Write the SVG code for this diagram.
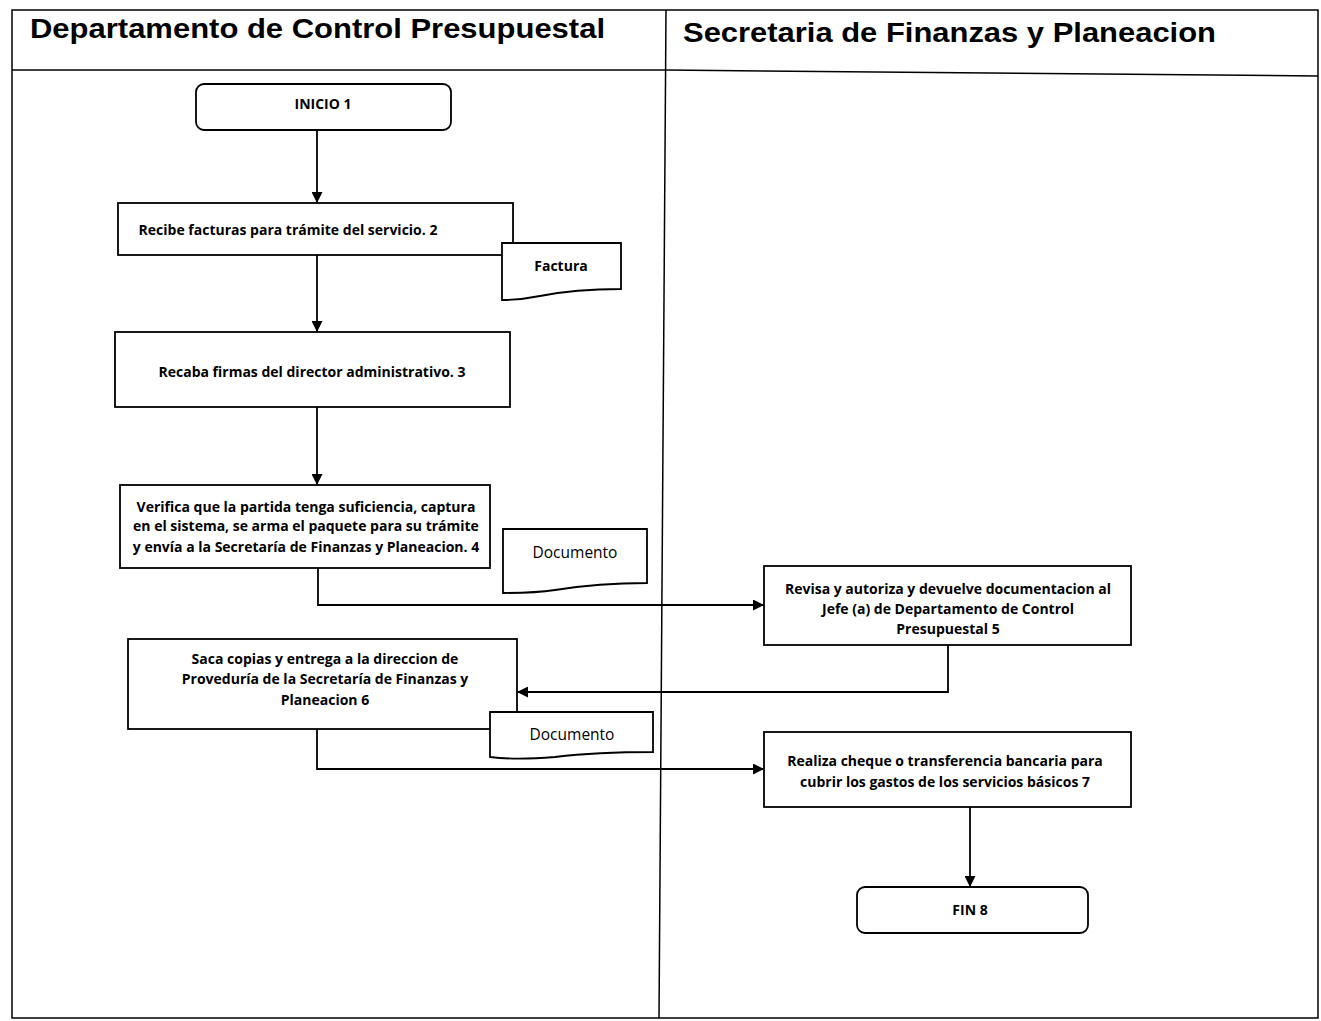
<svg xmlns="http://www.w3.org/2000/svg" width="1321" height="1021" viewBox="0 0 1321 1021">
<style>
.lane{fill:none;stroke:#000;stroke-width:1.5}
.box{fill:#fff;stroke:#000;stroke-width:1.8}
.hdr{font-family:"Liberation Sans",Arial,sans-serif;font-size:28px;font-weight:bold;fill:#000}
.t{font-family:"Open Sans","Liberation Sans",sans-serif;font-size:14px;font-weight:bold;fill:#000;text-anchor:middle}
.d{font-family:"Open Sans","Liberation Sans",sans-serif;font-size:15.5px;fill:#000;text-anchor:middle}
.c{fill:none;stroke:#000;stroke-width:1.8}
</style>
<defs>
<marker id="ah" markerWidth="11" markerHeight="11" refX="10" refY="5.5" orient="auto" markerUnits="userSpaceOnUse">
<path d="M0,0 L11,5.5 L0,11 Z" fill="#000"/>
</marker>
</defs>
<rect width="1321" height="1021" fill="#fff"/>
<g id="lanes">
<rect class="lane" x="12" y="10" width="1306" height="1008"/>
<line class="lane" x1="666" y1="10" x2="659" y2="1018"/>
<line class="lane" x1="12" y1="70" x2="666" y2="70"/>
<line class="lane" x1="666" y1="70" x2="1318" y2="76"/>
<text class="hdr" x="30" y="38" textLength="575" lengthAdjust="spacingAndGlyphs">Departamento de Control Presupuestal</text>
<text class="hdr" x="683" y="42" textLength="533" lengthAdjust="spacingAndGlyphs">Secretaria de Finanzas y Planeacion</text>
</g>
<g id="connectors">
<line class="c" x1="317" y1="130" x2="317" y2="202" marker-end="url(#ah)"/>
<line class="c" x1="317" y1="255" x2="317" y2="331" marker-end="url(#ah)"/>
<line class="c" x1="317" y1="407" x2="317" y2="484" marker-end="url(#ah)"/>
<polyline class="c" points="318,568 318,605 763,605" marker-end="url(#ah)"/>
<polyline class="c" points="948,645 948,692 518,692" marker-end="url(#ah)"/>
<polyline class="c" points="317,729 317,769 763,769" marker-end="url(#ah)"/>
<line class="c" x1="970" y1="807" x2="970" y2="886" marker-end="url(#ah)"/>
</g>
<g id="n1">
<rect class="box" x="196" y="84" width="255" height="46" rx="8"/>
<text class="t" x="323" y="109">INICIO 1</text>
</g>
<g id="n2">
<rect class="box" x="118" y="203" width="395" height="52"/>
<text class="t" x="288" y="235">Recibe facturas para trámite del servicio. 2</text>
</g>
<g id="d1">
<path class="box" d="M502,243 H621 V289 C590,289 560,292 540,296 C525,299 510,300 502,300 Z"/>
<text class="t" x="561" y="271">Factura</text>
</g>
<g id="n3">
<rect class="box" x="115" y="332" width="395" height="75"/>
<text class="t" x="312" y="377">Recaba firmas del director administrativo. 3</text>
</g>
<g id="n4">
<rect class="box" x="120" y="485" width="370" height="83"/>
<text class="t" x="306" y="512">Verifica que la partida tenga suficiencia, captura</text>
<text class="t" x="306" y="531">en el sistema, se arma el paquete para su trámite</text>
<text class="t" x="306" y="552">y envía a la Secretaría de Finanzas y Planeacion. 4</text>
</g>
<g id="d2">
<path class="box" d="M503,529 H647 V583 C610,583 580,586 555,590 C535,593 515,593 503,593 Z"/>
<text class="d" x="575" y="558">Documento</text>
</g>
<g id="n5">
<rect class="box" x="764" y="566" width="367" height="79"/>
<text class="t" x="948" y="594">Revisa y autoriza y devuelve documentacion al</text>
<text class="t" x="948" y="614">Jefe (a) de Departamento de Control</text>
<text class="t" x="948" y="634">Presupuestal  5</text>
</g>
<g id="n6">
<rect class="box" x="128" y="639" width="389" height="90"/>
<text class="t" x="325" y="664">Saca copias y entrega  a la direccion de</text>
<text class="t" x="325" y="684">Proveduría de la Secretaría de Finanzas y</text>
<text class="t" x="325" y="705">Planeacion  6</text>
</g>
<g id="d3">
<path class="box" d="M490,712 H653 V752 C615,752 580,754 555,757 C530,759 505,759 490,757 Z"/>
<text class="d" x="572" y="740">Documento</text>
</g>
<g id="n7">
<rect class="box" x="764" y="732" width="367" height="75"/>
<text class="t" x="945" y="766">Realiza cheque o transferencia bancaria para</text>
<text class="t" x="945" y="787">cubrir los gastos de los servicios básicos 7</text>
</g>
<g id="n8">
<rect class="box" x="857" y="887" width="231" height="46" rx="8"/>
<text class="t" x="970" y="915">FIN 8</text>
</g>
</svg>
